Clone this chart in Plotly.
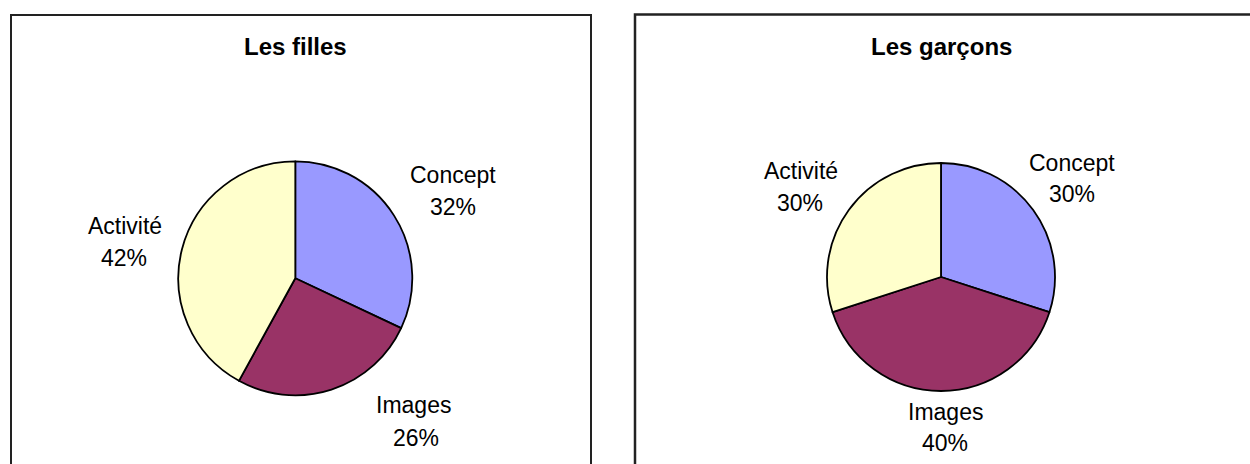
import plotly.graph_objects as go

# ---- data ----
categories = ["Concept", "Images", "Activité"]
filles_values = [32, 26, 42]
garcons_values = [30, 40, 30]
titles = ["Les filles", "Les garçons"]
colors = ["#9999FF", "#993366", "#FFFFCC"]

W, H = 1250, 464
FONT = "Liberation Sans, Arial, sans-serif"

def px_x(x):
    return x / W

def px_y(y):
    return 1 - y / H

fig = go.Figure()

# pie geometry (pixels): center x, center y, radius
pies = [
    dict(values=filles_values, cx=295.3, cy=278.3, r=117),
    dict(values=garcons_values, cx=941.0, cy=277.0, r=114),
]

for p in pies:
    fig.add_trace(go.Pie(
        labels=categories,
        values=p["values"],
        sort=False,
        direction="clockwise",
        rotation=0,
        marker=dict(colors=colors, line=dict(color="black", width=1.8)),
        textinfo="none",
        hoverinfo="label+percent",
        showlegend=False,
        domain=dict(
            x=[px_x(p["cx"] - p["r"]), px_x(p["cx"] + p["r"])],
            y=[px_y(p["cy"] + p["r"]), px_y(p["cy"] - p["r"])],
        ),
    ))

# label positions (pixels): (name line center, percent line center)
label_pos = [
    [((453, 175), (453, 207)), ((413, 405), (416, 438)), ((125, 226), (124, 258))],
    [((1072, 163), (1072, 194)), ((945, 412), (945, 443)), ((801, 171), (800, 203))],
]

annotations = []
for vals, pos in zip([filles_values, garcons_values], label_pos):
    total = sum(vals)
    for cat, v, ((nx, ny), (qx, qy)) in zip(categories, vals, pos):
        annotations.append(dict(
            text=cat, x=px_x(nx), y=px_y(ny), xref="paper", yref="paper",
            xanchor="center", yanchor="middle", showarrow=False,
            font=dict(family=FONT, size=23, color="black"),
        ))
        annotations.append(dict(
            text=f"{round(100 * v / total)}%", x=px_x(qx), y=px_y(qy),
            xref="paper", yref="paper",
            xanchor="center", yanchor="middle", showarrow=False,
            font=dict(family=FONT, size=23, color="black"),
        ))

# titles
for t, cx in zip(titles, [295, 941]):
    annotations.append(dict(
        text=f"<b>{t}</b>", x=px_x(cx), y=px_y(47), xref="paper", yref="paper",
        xanchor="center", yanchor="middle", showarrow=False,
        font=dict(family=FONT, size=24, color="black"),
    ))

# chart area borders
shapes = [
    dict(type="rect", xref="paper", yref="paper",
         x0=px_x(11), x1=px_x(591), y0=px_y(520), y1=px_y(15),
         line=dict(color="#222222", width=2), fillcolor="rgba(0,0,0,0)"),
    dict(type="rect", xref="paper", yref="paper",
         x0=px_x(635), x1=px_x(1300), y0=px_y(520), y1=px_y(14.5),
         line=dict(color="#222222", width=2.5), fillcolor="rgba(0,0,0,0)"),
]

fig.update_layout(
    width=W, height=H,
    margin=dict(l=0, r=0, t=0, b=0),
    paper_bgcolor="white",
    plot_bgcolor="white",
    annotations=annotations,
    shapes=shapes,
    font=dict(family=FONT),
)

fig.write_html("out.html")
